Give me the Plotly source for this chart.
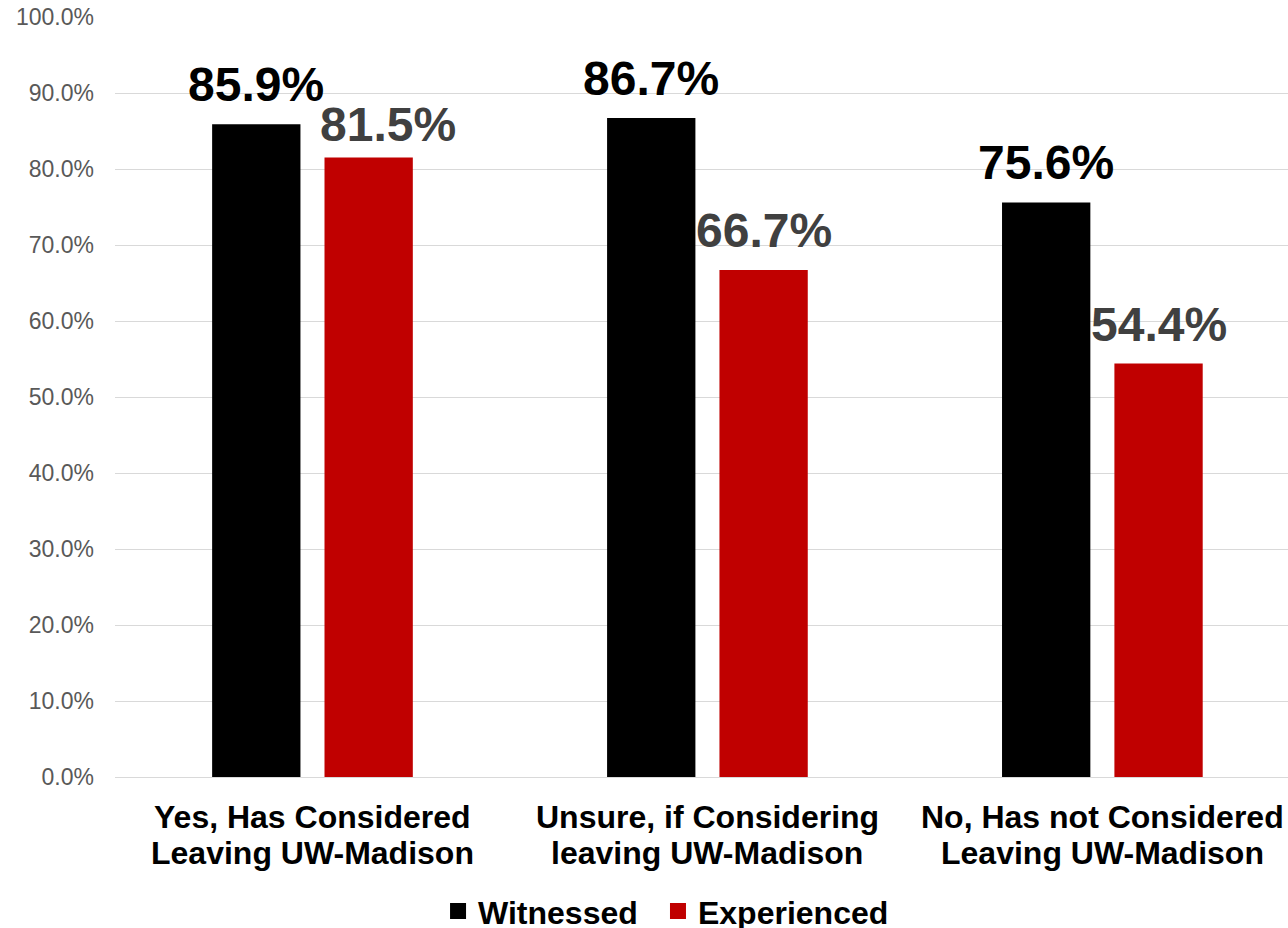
import plotly.graph_objects as go

# Survey results: share who witnessed / experienced, by intent to leave
categories = [
    "Yes, Has Considered<br>Leaving UW-Madison",
    "Unsure, if Considering<br>leaving UW-Madison",
    "No, Has not Considered<br>Leaving UW-Madison",
]
witnessed = [85.9, 86.7, 75.6]
experienced = [81.5, 66.7, 54.4]
y_ticks = [0, 10, 20, 30, 40, 50, 60, 70, 80, 90, 100]

# Styling
FONT = "Arial, 'Liberation Sans', sans-serif"
BLACK = "#000000"
RED = "#C00000"
GRID = "#D9D9D9"
SLOT = 0.2846          # half-group width per bar slot, in category units
label_dx_exp = [19, 0, 0]   # nudges for the Experienced value labels (px)
label_dy_exp = [5, 11, 11]
label_dy_wit = [11, 11, 11]

fig = go.Figure()

fig.add_trace(go.Bar(x=categories, y=witnessed, name="Witnessed",
                     marker=dict(color=BLACK, line=dict(width=0)),
                     showlegend=False, hoverinfo="skip"))
fig.add_trace(go.Bar(x=categories, y=experienced, name="Experienced",
                     marker=dict(color=RED, line=dict(width=0)),
                     showlegend=False, hoverinfo="skip"))

# Legend entries with square swatches (one legend box per series)
for name, col, leg in [("Witnessed", BLACK, "legend"), ("Experienced", RED, "legend2")]:
    fig.add_trace(go.Scatter(x=[None], y=[None], mode="markers", name=name,
                             marker=dict(symbol="square", size=16, color=col),
                             legend=leg, hoverinfo="skip"))

annotations = []
px_per_cat = 1173 / 2.97
for i, cat in enumerate(categories):
    # value labels
    annotations.append(dict(
        x=cat, y=witnessed[i], xref="x", yref="y",
        text=f"{witnessed[i]:.1f}%", showarrow=False,
        xshift=-SLOT / 2 * px_per_cat, yshift=label_dy_wit[i],
        yanchor="bottom", xanchor="center",
        font=dict(family=FONT, size=48, color=BLACK, weight="bold")))
    annotations.append(dict(
        x=cat, y=experienced[i], xref="x", yref="y",
        text=f"{experienced[i]:.1f}%", showarrow=False,
        xshift=SLOT / 2 * px_per_cat + label_dx_exp[i], yshift=label_dy_exp[i],
        yanchor="bottom", xanchor="center",
        font=dict(family=FONT, size=48, color="#404040", weight="bold")))
    # category labels, one annotation per line
    for j, line in enumerate(cat.split("<br>")):
        annotations.append(dict(
            x=cat, y=0, xref="x", yref="paper",
            text=line, showarrow=False,
            yanchor="top", xanchor="center", yshift=-20 - 36 * j,
            font=dict(family=FONT, size=32, color=BLACK, weight="bold")))

legend_style = dict(orientation="h", xanchor="left", xref="paper",
                    y=0.018, yanchor="middle", yref="container",
                    font=dict(family=FONT, size=32, color=BLACK, weight="bold"),
                    bgcolor="rgba(0,0,0,0)", itemclick=False, itemdoubleclick=False)

fig.update_layout(
    width=1288, height=928,
    margin=dict(l=115, r=0, t=17, b=151),
    paper_bgcolor="white", plot_bgcolor="white",
    barmode="group", bargap=0.431, bargroupgap=0.214,
    font=dict(family=FONT),
    annotations=annotations,
    legend=dict(x=0.2754, **legend_style),
    legend2=dict(x=0.4629, **legend_style),
    xaxis=dict(range=[-0.5, 2.47], showticklabels=False, showgrid=False,
               zeroline=False, showline=False, ticks="", fixedrange=True),
    yaxis=dict(range=[0, 100], tickvals=y_ticks,
               ticktext=[f"{v:.1f}%" for v in y_ticks],
               showgrid=True, gridcolor=GRID, gridwidth=1,
               zeroline=True, zerolinecolor=GRID, zerolinewidth=1,
               showline=False, ticks="", ticklabelstandoff=20,
               tickfont=dict(family=FONT, size=23, color="#595959"),
               fixedrange=True),
)

fig.write_html("out.html", config={"displayModeBar": False})
